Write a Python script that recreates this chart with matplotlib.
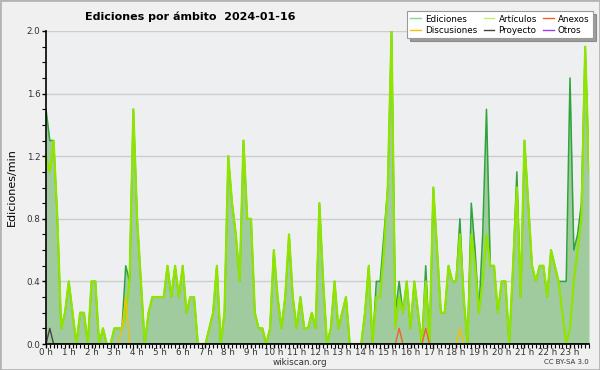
import numpy as np
import matplotlib
matplotlib.use('Agg')
import matplotlib.pyplot as plt
from matplotlib.patches import Rectangle

# edits per minute, 10-minute buckets (00:00 .. 23:50)
ediciones = [
    1.5, 1.3, 1.3, 0.8, 0.1, 0.2, 0.4, 0.2, 0.0, 0.2, 0.2, 0.0,
    0.4, 0.4, 0.0, 0.1, 0.0, 0.0, 0.1, 0.1, 0.1, 0.5, 0.4, 1.5,
    0.8, 0.4, 0.0, 0.2, 0.3, 0.3, 0.3, 0.3, 0.5, 0.3, 0.5, 0.3,
    0.5, 0.2, 0.3, 0.3, 0.0, 0.0, 0.0, 0.1, 0.2, 0.5, 0.0, 0.2,
    1.2, 0.9, 0.7, 0.4, 1.3, 0.8, 0.8, 0.2, 0.1, 0.1, 0.0, 0.1,
    0.6, 0.3, 0.1, 0.3, 0.7, 0.3, 0.1, 0.3, 0.1, 0.1, 0.2, 0.1,
    0.9, 0.4, 0.0, 0.1, 0.4, 0.1, 0.2, 0.3, 0.0, 0.0, 0.0, 0.0,
    0.2, 0.5, 0.0, 0.4, 0.4, 0.7, 1.0, 2.0, 0.2, 0.4, 0.2, 0.4,
    0.1, 0.4, 0.2, 0.0, 0.5, 0.0, 1.0, 0.6, 0.2, 0.2, 0.5, 0.4,
    0.4, 0.8, 0.3, 0.0, 0.9, 0.6, 0.2, 0.7, 1.5, 0.5, 0.5, 0.2,
    0.4, 0.4, 0.0, 0.5, 1.1, 0.3, 1.3, 0.9, 0.5, 0.4, 0.5, 0.5,
    0.3, 0.6, 0.5, 0.4, 0.4, 0.4, 1.7, 0.6, 0.7, 0.9, 1.9, 1.1,
]
articulos = [
    1.2, 1.1, 1.3, 0.8, 0.1, 0.2, 0.4, 0.2, 0.0, 0.2, 0.2, 0.0,
    0.4, 0.4, 0.0, 0.1, 0.0, 0.0, 0.1, 0.1, 0.1, 0.2, 0.4, 1.5,
    0.8, 0.4, 0.0, 0.2, 0.3, 0.3, 0.3, 0.3, 0.5, 0.3, 0.5, 0.3,
    0.5, 0.2, 0.3, 0.3, 0.0, 0.0, 0.0, 0.1, 0.2, 0.5, 0.0, 0.2,
    1.2, 0.9, 0.7, 0.4, 1.3, 0.8, 0.8, 0.2, 0.1, 0.1, 0.0, 0.1,
    0.6, 0.3, 0.1, 0.3, 0.7, 0.3, 0.1, 0.3, 0.1, 0.1, 0.2, 0.1,
    0.9, 0.4, 0.0, 0.1, 0.4, 0.1, 0.2, 0.3, 0.0, 0.0, 0.0, 0.0,
    0.2, 0.5, 0.0, 0.3, 0.3, 0.6, 1.0, 2.0, 0.1, 0.3, 0.2, 0.4,
    0.1, 0.4, 0.2, 0.0, 0.4, 0.0, 1.0, 0.6, 0.2, 0.2, 0.5, 0.4,
    0.4, 0.7, 0.3, 0.0, 0.7, 0.5, 0.2, 0.4, 0.7, 0.5, 0.5, 0.2,
    0.4, 0.4, 0.0, 0.5, 1.0, 0.3, 1.3, 0.9, 0.5, 0.4, 0.5, 0.5,
    0.3, 0.6, 0.5, 0.4, 0.2, 0.0, 0.1, 0.4, 0.6, 0.8, 1.9, 1.1,
]
# sparse series: {bucket index: value}
discusiones = {19: 0.0, 20: 0.1, 21: 0.3, 22: 0.0, 108: 0.0, 109: 0.1, 110: 0.0}
anexos = {92: 0.0, 93: 0.1, 94: 0.0, 99: 0.0, 100: 0.1, 101: 0.0}
proyecto = {0: 0.0, 1: 0.1, 2: 0.0}
otros = {}

hours = list(range(24))
hour_labels = [f'{h} h' for h in hours]

BG = '#f0f0f0'
C_EDIT_FILL = '#9fcb9f'
C_EDIT = '#2fa43a'
C_ART = '#8fe400'
C_DISC = '#f2c200'
C_ANEX = '#f0622a'
C_PROY = '#444444'
C_OTROS = '#9b3cf0'


def sparse_series(d, n):
    vals = np.zeros(n)
    for k, v in d.items():
        vals[k] = v
    return vals


def main():
    n = len(ediciones)
    x = np.arange(n) / 6.0

    fig = plt.figure(figsize=(6.0, 3.7), dpi=100, facecolor=BG)
    fig.patches.append(Rectangle((0, 0), 1, 1, transform=fig.transFigure,
                                 fill=False, edgecolor='#b4b4b4', lw=2))
    ax = fig.add_axes([46 / 600, 26 / 370, 543 / 600, 313 / 370])
    ax.set_facecolor('#eeeff1')

    ax.fill_between(x, ediciones, 0, color=C_EDIT_FILL, lw=0, zorder=2)
    ax.plot(x, ediciones, color=C_EDIT, lw=1.1, zorder=3)
    ax.plot(x, articulos, color=C_ART, lw=1.6, zorder=4)
    ax.plot(x, sparse_series(discusiones, n), color=C_DISC, lw=1.0, zorder=5)
    ax.plot(x, sparse_series(anexos, n), color=C_ANEX, lw=1.0, zorder=5)
    ax.plot(x, sparse_series(proyecto, n), color=C_PROY, lw=1.0, zorder=5)
    ax.plot(x, sparse_series(otros, n), color=C_OTROS, lw=1.0, zorder=1)

    ax.set_xlim(0, x[-1])
    ax.set_ylim(0, 2.0)
    ax.set_xticks(hours)
    ax.set_xticklabels(hour_labels)
    ax.set_xticks(np.arange(n) / 6.0, minor=True)
    ax.set_yticks(np.arange(0, 2.01, 0.4))
    ax.set_yticklabels([f'{v:.1f}' for v in np.arange(0, 2.01, 0.4)])
    ax.set_yticks(np.arange(0, 2.01, 0.1), minor=True)
    ax.tick_params(axis='both', which='major', labelsize=6.3, length=3,
                   width=1, colors='black', labelcolor='#333333')
    ax.tick_params(axis='x', which='major', pad=0)
    ax.tick_params(axis='y', which='major', pad=1)
    ax.tick_params(axis='both', which='minor', length=3, width=0.8)
    ax.grid(axis='y', color='#cccccc', lw=1, zorder=0)
    ax.set_axisbelow(True)
    for side in ['top', 'right']:
        ax.spines[side].set_visible(False)
    for side in ['left', 'bottom']:
        ax.spines[side].set_linewidth(1.2)
        ax.spines[side].set_zorder(6)

    ax.set_ylabel('Ediciones/min', fontsize=8, labelpad=7)

    fig.text(85 / 600, 1 - 17 / 370, 'Ediciones por ámbito  2024-01-16',
             fontsize=8, fontweight='bold', va='center', ha='left')
    fig.text(300 / 600, 1 - 362.5 / 370, 'wikiscan.org', fontsize=6.3,
             ha='center', va='center', color='#333333')
    fig.text(589 / 600, 1 - 362.5 / 370, 'CC BY-SA 3.0', fontsize=5,
             ha='right', va='center', color='#333333')

    handles = [
        plt.Line2D([], [], color='#8fd08f', lw=1),
        plt.Line2D([], [], color=C_DISC, lw=1),
        plt.Line2D([], [], color='#c8f060', lw=1),
        plt.Line2D([], [], color=C_PROY, lw=1),
        plt.Line2D([], [], color=C_ANEX, lw=1),
        plt.Line2D([], [], color=C_OTROS, lw=1),
    ]
    labels = ['Ediciones', 'Discusiones', 'Artículos', 'Proyecto', 'Anexos', 'Otros']
    leg = fig.legend(handles, labels, ncol=3, loc='upper right',
                     bbox_to_anchor=(593 / 600, 1 - 11 / 370), fontsize=6.3,
                     frameon=True, fancybox=False, shadow=True,
                     handlelength=1.2, handletextpad=0.5, columnspacing=0.7,
                     labelspacing=0.25, borderpad=0.4, borderaxespad=0)
    leg.get_frame().set_edgecolor('#999999')
    leg.get_frame().set_linewidth(0.8)

    fig.savefig('out.png', dpi=100, facecolor=BG)


if __name__ == "__main__":
    main()
